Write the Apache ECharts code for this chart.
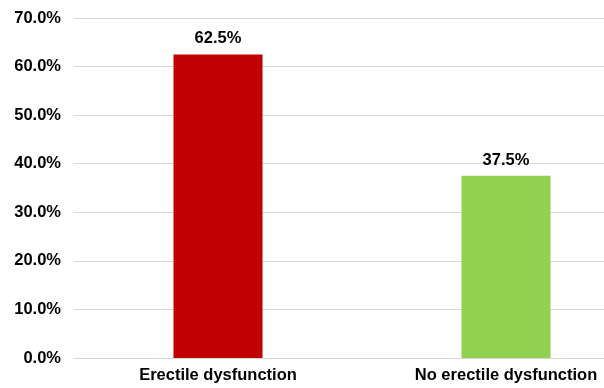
<!DOCTYPE html>
<html><head><meta charset="utf-8">
<script src="https://cdn.jsdelivr.net/npm/echarts@6/dist/echarts.min.js"></script>
<style>html,body{margin:0;padding:0;background:#fff;overflow:hidden;width:604px;height:388px}#c{width:650px;height:388px}</style>
</head><body><div id="c"></div>
<script>
const categories = ["Erectile dysfunction", "No erectile dysfunction"];
const values = [62.5, 37.5];
const barColors = ["#C00000", "#92D050"];
const yTicks = [0, 10, 20, 30, 40, 50, 60, 70];

const chart = echarts.init(document.getElementById('c'));
const font = '"Liberation Sans", Arial, sans-serif';
chart.setOption({
  animation: false,
  grid: { left: 74, right: 0, top: 18, bottom: 30, containLabel: false },
  xAxis: {
    type: 'category', data: categories,
    axisLine: { show: true, lineStyle: { color: '#d9d9d9', width: 1 } },
    axisTick: { show: false },
    axisLabel: { color: '#000', fontFamily: font, fontWeight: 'bold', fontSize: 16.5, margin: 9, interval: 0 }
  },
  yAxis: {
    type: 'value', min: yTicks[0], max: yTicks[yTicks.length - 1], interval: 10,
    axisLine: { show: false }, axisTick: { show: false },
    splitLine: { lineStyle: { color: '#d9d9d9', width: 1 } },
    axisLabel: { color: '#000', fontFamily: font, fontWeight: 'bold', fontSize: 16.5, margin: 13,
      formatter: v => v.toFixed(1) + '%' }
  },
  series: [{
    type: 'bar', barWidth: 89,
    data: values.map((v, i) => ({ value: v, itemStyle: { color: barColors[i] } })),
    label: { show: true, position: 'top', distance: 7, color: '#000', fontFamily: font,
      fontWeight: 'bold', fontSize: 16.5, formatter: p => p.value.toFixed(1) + '%' }
  }]
});
</script></body></html>
